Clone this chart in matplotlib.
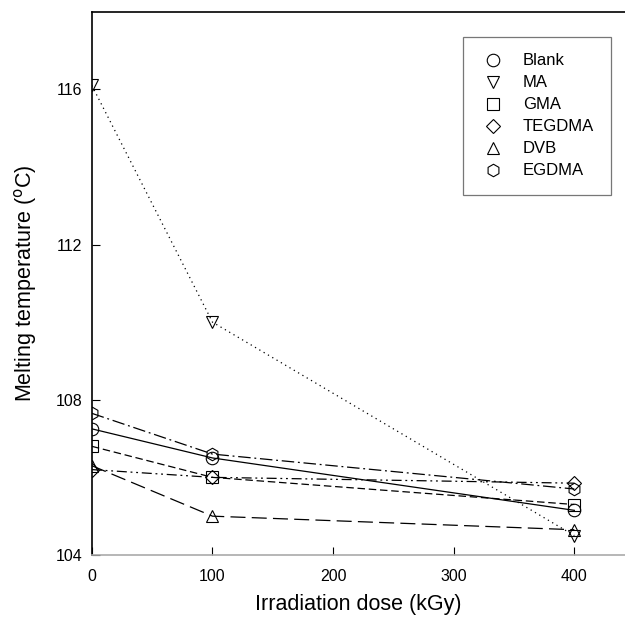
import matplotlib
matplotlib.use('Agg')
import matplotlib.pyplot as plt

plt.rcParams['font.family'] = ['Liberation Sans', 'DejaVu Sans']

# irradiation dose (kGy)
dose = [0, 100, 400]

# melting temperature (oC) per additive
blank = [107.25, 106.5, 105.15]
ma = [116.1, 110.0, 104.5]
gma = [106.8, 106.0, 105.3]
tegdma = [106.2, 106.0, 105.85]
dvb = [106.3, 105.0, 104.65]
egdma = [107.65, 106.6, 105.7]

series = [
    ('Blank', blank, 'o', '-'),
    ('MA', ma, 'v', (0, (1, 3))),
    ('GMA', gma, 's', (0, (6, 3))),
    ('TEGDMA', tegdma, 'D', (0, (8, 3, 1.5, 3, 1.5, 3))),
    ('DVB', dvb, '^', (0, (12, 5))),
    ('EGDMA', egdma, 'h', (0, (10, 3, 1.5, 3))),
]

fig = plt.figure(figsize=(6.25, 6.18), dpi=100)
ax = fig.add_axes([0.147, 0.102, 0.853, 0.879])

for name, vals, mk, ls in series:
    ms = 7.5 if mk == 'D' else 9
    ax.plot(dose, vals, linestyle=ls, color='black', lw=0.9,
            marker=mk, markersize=ms, markerfacecolor='none',
            markeredgecolor='black', markeredgewidth=0.8, label=name)

ax.set_xlim(0, 442)
ax.set_ylim(104, 118)
ax.set_xticks([0, 100, 200, 300, 400])
ax.set_yticks([104, 108, 112, 116])
ax.tick_params(direction='in', length=6, width=0.8, labelsize=11.5)
ax.tick_params(axis='x', pad=10)
ax.tick_params(axis='y', pad=7)

ax.spines['right'].set_visible(False)
ax.spines['top'].set_linewidth(1.2)
ax.spines['left'].set_linewidth(1.2)
ax.spines['bottom'].set_color('#aaaaaa')
ax.spines['bottom'].set_linewidth(1.2)

ax.set_xlabel('Irradiation dose (kGy)', fontsize=15.5, labelpad=7)
ax.set_ylabel('Melting temperature ($^{\\mathrm{o}}$C)', fontsize=15.5, labelpad=12)

leg = ax.legend(loc='upper right', bbox_to_anchor=(0.973, 0.954), frameon=True,
                fancybox=False, edgecolor='#555555', fontsize=12,
                handlelength=1.6, handletextpad=1.0, labelspacing=0.42,
                borderpad=1.0, borderaxespad=0)
leg.get_frame().set_linewidth(0.9)
for h in leg.legend_handles:
    h.set_linestyle('None')

fig.savefig('out.png', dpi=100)
plt.close(fig)
